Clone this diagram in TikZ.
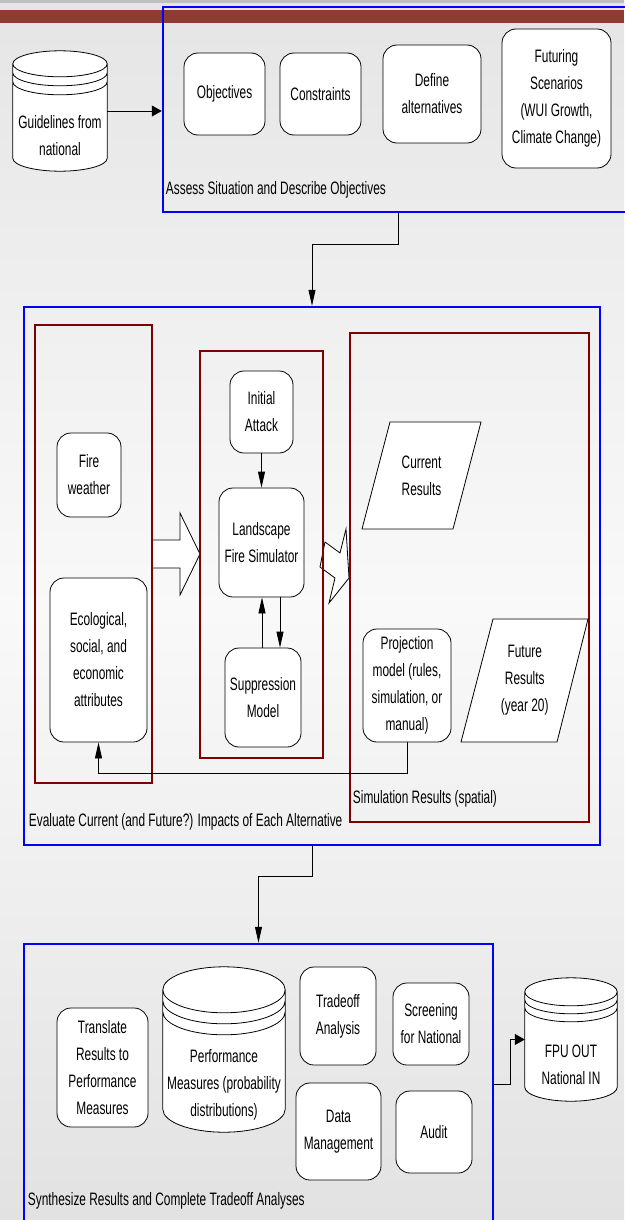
\documentclass[tikz,border=0pt]{standalone}
\usepackage{fontspec}
\setmainfont[FakeStretch=0.66]{Liberation Sans}
\usepackage{tikz}
\usetikzlibrary{fit,calc,arrows.meta}

\definecolor{bgtop}{RGB}{229,229,229}
\definecolor{bgmid}{RGB}{249,249,249}
\definecolor{bgbot}{RGB}{226,226,226}
\definecolor{barred}{RGB}{142,59,50}
\definecolor{boxred}{RGB}{128,0,0}

\newcommand{\drawdb}[3]{%
  \draw[fill=white, line width=0.8pt] let \p1=(#1.north west), \p2=(#1.south east), \n1={(\x2-\x1)/2} in
    (\x1,\y1-#2) -- (\x1,\y2+#2) arc[start angle=180, end angle=360, x radius=\n1, y radius=#2]
    -- (\x2,\y1-#2) arc[start angle=0, end angle=180, x radius=\n1, y radius=#2] -- cycle
    (\x1,\y1-#2) arc[start angle=180, end angle=360, x radius=\n1, y radius=#2]
    (\x1,\y1-#2-#3) arc[start angle=180, end angle=360, x radius=\n1, y radius=#2]
    (\x1,\y1-#2-2*#3) arc[start angle=180, end angle=360, x radius=\n1, y radius=#2];
}

\begin{document}
\begin{tikzpicture}[x=1pt, y=-1pt, >={Triangle[length=16pt,width=7pt]},
    every node/.style={font=\fontsize{18}{27}\selectfont},
    procbox/.style={draw, fill=white, rounded corners=14pt, align=center, inner sep=0pt, line width=0.8pt},
    groupbox/.style={draw=blue, line width=2.5pt, inner sep=0pt},
    simbox/.style={draw=boxred, line width=2.5pt, inner sep=0pt},
    dbnode/.style={inner sep=0pt},
    dbtext/.style={align=center, inner sep=0pt},
    grouplabel/.style={anchor=west, inner sep=0pt},
    shapeline/.style={draw, fill=white, line width=0.8pt},
    link/.style={->, line width=0.8pt},
    hlink/.style={-{Triangle[length=10pt,width=11pt]}, line width=0.8pt}]

    \useasboundingbox (0,0) rectangle (624,1220);
    \shade[top color=bgtop, bottom color=bgbot, middle color=bgmid] (0,0) rectangle (624,1220);
    \fill[gray!50] (0,0) rectangle (624,3);
    \fill[barred] (0,10) rectangle (624,23);

    \node[groupbox, fit={(163,7)(632,212)}] (assess) {};
    \node[procbox, minimum width=81pt, minimum height=82pt] (objectives) at (224.5,94) {Objectives};
    \node[procbox, minimum width=81pt, minimum height=82pt] (constraints) at (320.5,94) {Constraints};
    \node[procbox, minimum width=98pt, minimum height=98pt] (alternatives) at (432,94) {Define\\alternatives};
    \node[procbox, minimum width=109pt, minimum height=139pt] (scenarios) at (556.5,98.5) {Futuring\\Scenarios\\(WUI Growth,\\Climate Change)};
    \node[grouplabel] (assesslabel) at ([shift={(4,-23)}]assess.south west) {Assess Situation and Describe Objectives};

    \node[dbnode, fit={(13,51)(107,171)}] (guide) {};
    \drawdb{guide}{13pt}{9pt}
    \node[dbtext] (guidetext) at ([yshift=-25pt]guide.center) {Guidelines from\\national};
    \draw[hlink] (guide.east) -- (guide.east -| assess.west);

    \node[groupbox, fit={(24,307)(600,845)}] (evaluate) {};
    \draw[shapeline] (152,540) -- (180,540) -- (180,513) -- (200,554) -- (180,595) -- (180,568) -- (152,568);
    \draw[shapeline] (325,542) -- (340,553) -- (346,529) -- (349,578) -- (329,603) -- (335,578) -- (320,567) -- cycle;
    \node[simbox, fit={(35,325)(152,783)}] (inputs) {};
    \node[simbox, fit={(200,351)(323,758)}] (firesim) {};
    \node[simbox, fit={(350,333)(589,822)}] (simresults) {};

    \node[procbox, minimum width=64pt, minimum height=84pt] (fireweather) at (89,475) {Fire\\weather};
    \node[procbox, minimum width=97pt, minimum height=164pt] (ecological) at (98.5,660) {Ecological,\\social, and\\economic\\attributes};
    \node[procbox, minimum width=63pt, minimum height=82pt] (initattack) at (261.5,412) {Initial\\Attack};
    \node[procbox, minimum width=85pt, minimum height=109pt] (landscape) at (261.5,542.5) {Landscape\\Fire Simulator};
    \node[procbox, minimum width=76pt, minimum height=99pt] (suppression) at (263,697.5) {Suppression\\Model};
    \node[procbox, minimum width=88pt, minimum height=113pt] (projection) at (407,685.5) {Projection\\model (rules,\\simulation, or\\manual)};

    \draw[shapeline] (390,422) -- (481,422) -- (453,529) -- (362,529) -- cycle;
    \node[dbtext] (current) at (421.5,475.5) {Current\\Results};
    \draw[shapeline] (493,619) -- (588,619) -- (557,742) -- (461,742) -- cycle;
    \node[dbtext] (future) at (524.75,680.5) {Future\\Results\\(year 20)};

    \draw[link] (initattack) -- (landscape);
    \draw[link] ([xshift=-1pt]suppression.north) -- ([xshift=-1pt]suppression.north |- landscape.south);
    \draw[link] ([xshift=18.5pt]landscape.south) -- ([xshift=18.5pt]landscape.south |- suppression.north);
    \draw[link] (projection.south) -- ++(0,31) -| (ecological.south);

    \node[grouplabel] (simlabel) at ([shift={(4,-24)}]simresults.south west) {Simulation Results (spatial)};
    \node[grouplabel] (evallabel) at ([shift={(6,-24)}]evaluate.south west) {Evaluate Current (and Future?) Impacts of Each Alternative};

    \draw[link] ([xshift=0.5pt]assess.south) -- ++(0,31) -| (evaluate.north);

    \node[groupbox, fit={(24,944)(493,1225)}] (synth) {};
    \draw[link] (evaluate.south) -- ++(0,30) -| (synth.north);
    \node[procbox, minimum width=91pt, minimum height=119pt] (translate) at (102.5,1067.5) {Translate\\Results to\\Performance\\Measures};
    \node[dbnode, fit={(163,967)(285,1132)}] (perf) {};
    \drawdb{perf}{23pt}{11pt}
    \node[dbtext] (perftext) at ([yshift=-35pt]perf.center) {Performance\\Measures (probability\\distributions)};
    \node[procbox, minimum width=76pt, minimum height=98pt] (tradeoff) at (338,1016) {Tradeoff\\Analysis};
    \node[procbox, minimum width=76pt, minimum height=82pt] (screening) at (431,1024) {Screening\\for National};
    \node[procbox, minimum width=85pt, minimum height=97pt] (datamgmt) at (338.5,1131.5) {Data\\Management};
    \node[procbox, minimum width=76pt, minimum height=82pt] (audit) at (434,1132) {Audit};
    \node[grouplabel] (synthlabel) at ([shift={(5,-25)}]synth.south west) {Synthesize Results and Complete Tradeoff Analyses};

    \node[dbnode, fit={(525,978)(617,1101)}] (fpu) {};
    \drawdb{fpu}{14pt}{8pt}
    \node[dbtext] (fputext) at ([yshift=-25pt]fpu.center) {FPU OUT\\National IN};
    \draw[hlink] (synth.east) -- ++(16,0) |- (fpu.west);
\end{tikzpicture}
\end{document}
